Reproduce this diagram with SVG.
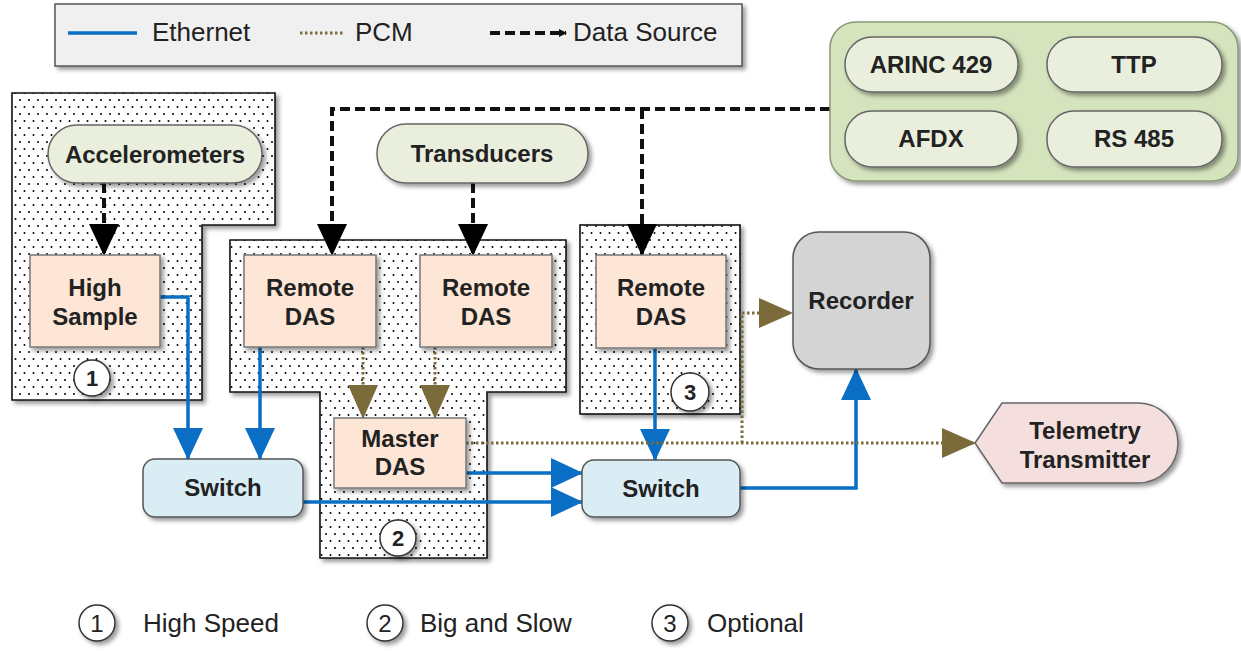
<svg xmlns="http://www.w3.org/2000/svg" width="1241" height="651" viewBox="0 0 1241 651">
<style>
text{font-family:"Liberation Sans",Arial,sans-serif;fill:#222}
.lbl{font-size:24px;font-weight:bold;text-anchor:middle}
.leg{font-size:26px}
.num{font-size:22px;font-weight:bold;text-anchor:middle}
.knum{font-size:24px;text-anchor:middle}
.region{fill:url(#dots);stroke:#111;stroke-width:1.6;filter:url(#sh)}
.box{fill:#fde6d6;stroke:#777;stroke-width:1.5;filter:url(#sh)}
.pill{fill:#e9efdc;stroke:#666;stroke-width:1.5;filter:url(#sh)}
.sw{fill:#daedf4;stroke:#555;stroke-width:1.5;filter:url(#sh)}
.circ{fill:#fff;stroke:#333;stroke-width:1.5;filter:url(#sh)}
.eth{fill:none;stroke:#0a6ec4;stroke-width:3.5}
.pcm{fill:none;stroke:#7b6b3a;stroke-width:3;stroke-dasharray:2.5 2.5}
.ds{fill:none;stroke:#111;stroke-width:4;stroke-dasharray:10 5}
</style>
<defs>
<pattern id="dots" width="9" height="14" patternUnits="userSpaceOnUse">
<rect width="9" height="14" fill="#fff"/>
<circle cx="2" cy="2" r="1" fill="#000"/>
<circle cx="6.5" cy="9" r="1" fill="#000"/>
</pattern>
<filter id="sh" x="-10%" y="-10%" width="130%" height="140%">
<feDropShadow dx="3" dy="3" stdDeviation="2" flood-color="#000" flood-opacity="0.4"/>
</filter>
<marker id="aBlk" markerUnits="userSpaceOnUse" markerWidth="32" markerHeight="30" refX="31" refY="15" orient="auto"><path d="M0,0 L32,15 L0,30 Z" fill="#000"/></marker>
<marker id="aBlu" markerUnits="userSpaceOnUse" markerWidth="32" markerHeight="30" refX="31" refY="15" orient="auto"><path d="M0,0 L32,15 L0,30 Z" fill="#0a6ec4"/></marker>
<marker id="aPcm" markerUnits="userSpaceOnUse" markerWidth="34" markerHeight="30" refX="33" refY="15" orient="auto"><path d="M0,0 L34,15 L0,30 Z" fill="#7b6b3a"/></marker>
<marker id="aSm" markerUnits="userSpaceOnUse" markerWidth="8" markerHeight="8" refX="7" refY="4" orient="auto"><path d="M0,0 L8,4 L0,8 Z" fill="#111"/></marker>
</defs>
<rect width="1241" height="651" fill="#fff"/>

<g id="legend">
<rect x="55" y="4" width="687" height="62" fill="#f0f0f0" stroke="#555" stroke-width="1.5" filter="url(#sh)"/>
<line x1="68" y1="33" x2="137" y2="33" class="eth" stroke-width="4"/>
<text x="152" y="41" class="leg">Ethernet</text>
<line x1="300" y1="33" x2="345" y2="33" class="pcm"/>
<text x="355" y="41" class="leg">PCM</text>
<line x1="490" y1="33" x2="566" y2="33" class="ds" marker-end="url(#aSm)"/>
<text x="573" y="41" class="leg">Data Source</text>
</g>

<g id="region1">
<path class="region" d="M12,93 H275 V225 H202 V400 H12 Z"/>
<circle class="circ" cx="92" cy="378" r="18"/><text x="92" y="386" class="num">1</text>
</g>
<g id="region2">
<path class="region" d="M230,240 H566 V392 H487 V558 H320 V392 H230 Z"/>
<circle class="circ" cx="398" cy="538" r="18"/><text x="398" y="546" class="num">2</text>
</g>
<g id="region3">
<rect class="region" x="580" y="225" width="160" height="189"/>
<circle class="circ" cx="690" cy="392" r="19"/><text x="690" y="400" class="num">3</text>
</g>

<g id="connectors">
<path class="ds" d="M104,183 V255" marker-end="url(#aBlk)"/>
<path class="ds" d="M473,183 V255" marker-end="url(#aBlk)"/>
<path class="ds" d="M830,109 H332 V255" marker-end="url(#aBlk)"/>
<path class="ds" d="M642,109 V255" marker-end="url(#aBlk)"/>
<path class="eth" d="M160,297 H188 V459" marker-end="url(#aBlu)"/>
<path class="eth" d="M260,347 V459" marker-end="url(#aBlu)"/>
<path class="eth" d="M466,473 H582" marker-end="url(#aBlu)"/>
<path class="eth" d="M303,502 H582" marker-end="url(#aBlu)"/>
<path class="eth" d="M655,348 V460" marker-end="url(#aBlu)"/>
<path class="eth" d="M740,488 H856 V369" marker-end="url(#aBlu)"/>
<path class="pcm" d="M363,347 V418" marker-end="url(#aPcm)"/>
<path class="pcm" d="M435,347 V418" marker-end="url(#aPcm)"/>
<path class="pcm" d="M466,443 H975" marker-end="url(#aPcm)"/>
<path class="pcm" d="M742,443 V313 H792" marker-end="url(#aPcm)"/>
</g>

<g id="accelerometers"><rect class="pill" x="48" y="125" width="214" height="58" rx="29"/><text x="155" y="163" class="lbl">Accelerometers</text></g>
<g id="transducers"><rect class="pill" x="377" y="124" width="211" height="59" rx="29"/><text x="482" y="162" class="lbl">Transducers</text></g>
<g id="highSample"><rect class="box" x="30" y="255" width="130" height="92"/><text x="95" y="296" class="lbl">High</text><text x="95" y="325" class="lbl">Sample</text></g>
<g id="remoteDas1"><rect class="box" x="244" y="255" width="132" height="92"/><text x="310" y="296" class="lbl">Remote</text><text x="310" y="325" class="lbl">DAS</text></g>
<g id="remoteDas2"><rect class="box" x="420" y="255" width="132" height="92"/><text x="486" y="296" class="lbl">Remote</text><text x="486" y="325" class="lbl">DAS</text></g>
<g id="remoteDas3"><rect class="box" x="596" y="255" width="130" height="93"/><text x="661" y="296" class="lbl">Remote</text><text x="661" y="325" class="lbl">DAS</text></g>
<g id="masterDas"><rect class="box" x="334" y="418" width="132" height="70"/><text x="400" y="447" class="lbl">Master</text><text x="400" y="475" class="lbl">DAS</text></g>
<g id="switch1"><rect class="sw" x="143" y="459" width="160" height="58" rx="12"/><text x="223" y="496" class="lbl">Switch</text></g>
<g id="switch2"><rect class="sw" x="582" y="460" width="158" height="57" rx="12"/><text x="661" y="497" class="lbl">Switch</text></g>
<g id="recorder"><rect x="793" y="232" width="137" height="137" rx="26" fill="#d4d4d4" stroke="#555" stroke-width="1.5" filter="url(#sh)"/><text x="861" y="309" class="lbl">Recorder</text></g>
<g id="telemetry"><path d="M975,443 L1002,403 H1138 A40,40 0 0 1 1138,483 H1002 Z" fill="#f5dede" stroke="#666" stroke-width="1.5" filter="url(#sh)"/><text x="1085" y="439" class="lbl">Telemetry</text><text x="1085" y="468" class="lbl">Transmitter</text></g>
<g id="dataSources">
<rect x="830" y="22" width="408" height="159" rx="26" fill="#d5e4bd" stroke="#8a9a78" stroke-width="1.5" filter="url(#sh)"/>
<rect class="pill" x="845" y="37" width="173" height="55" rx="27"/><text x="931" y="73" class="lbl">ARINC 429</text>
<rect class="pill" x="1047" y="37" width="175" height="55" rx="27"/><text x="1134" y="73" class="lbl">TTP</text>
<rect class="pill" x="845" y="111" width="173" height="56" rx="27"/><text x="931" y="147" class="lbl">AFDX</text>
<rect class="pill" x="1047" y="111" width="175" height="56" rx="27"/><text x="1134" y="147" class="lbl">RS 485</text>
</g>

<g id="key">
<circle class="circ" cx="97" cy="623" r="18"/><text x="97" y="632" class="knum">1</text>
<text x="143" y="632" class="leg">High Speed</text>
<circle class="circ" cx="385" cy="623" r="18"/><text x="385" y="632" class="knum">2</text>
<text x="420" y="632" class="leg">Big and Slow</text>
<circle class="circ" cx="670" cy="623" r="18"/><text x="670" y="632" class="knum">3</text>
<text x="707" y="632" class="leg">Optional</text>
</g>
</svg>
